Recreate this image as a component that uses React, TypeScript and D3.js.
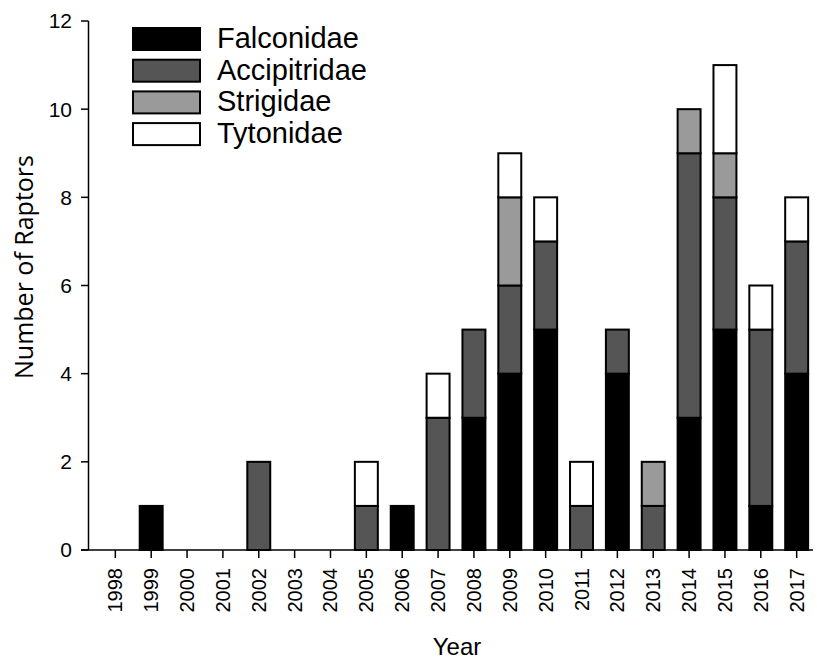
import React, { useEffect, useRef } from 'react';
import * as d3 from 'd3';

// counts per year
const years = ['1998', '1999', '2000', '2001', '2002', '2003', '2004', '2005', '2006', '2007',
  '2008', '2009', '2010', '2011', '2012', '2013', '2014', '2015', '2016', '2017'];
const falconidae = [0, 1, 0, 0, 0, 0, 0, 0, 1, 0, 3, 4, 5, 0, 4, 0, 3, 5, 1, 4];
const accipitridae = [0, 0, 0, 0, 2, 0, 0, 1, 0, 3, 2, 2, 2, 1, 1, 1, 6, 3, 4, 3];
const strigidae = [0, 0, 0, 0, 0, 0, 0, 0, 0, 0, 0, 2, 0, 0, 0, 1, 1, 1, 0, 0];
const tytonidae = [0, 0, 0, 0, 0, 0, 0, 1, 0, 1, 0, 1, 1, 1, 0, 0, 0, 2, 1, 1];
const families = ['Falconidae', 'Accipitridae', 'Strigidae', 'Tytonidae'];
const colors = ['#000000', '#555555', '#9a9a9a', '#ffffff'];
const yTicks = [0, 2, 4, 6, 8, 10, 12];

function App() {
  const ref = useRef<SVGSVGElement>(null);

  useEffect(() => {
    const svg = d3.select(ref.current);
    svg.selectAll('*').remove();

    const rows = years.map((y, i) => ({
      year: y,
      Falconidae: falconidae[i],
      Accipitridae: accipitridae[i],
      Strigidae: strigidae[i],
      Tytonidae: tytonidae[i],
    }));

    const x = d3.scaleBand().domain(years).range([97.4, 814.6]).paddingInner(0.36).paddingOuter(0.18);
    const y = d3.scaleLinear().domain([0, 12]).range([550, 21]);
    const color = d3.scaleOrdinal<string>().domain(families).range(colors);

    const stacked = d3.stack<any>().keys(families)(rows);

    // bars
    svg.append('g')
      .selectAll('g')
      .data(stacked)
      .enter()
      .append('g')
      .attr('fill', d => color(d.key))
      .selectAll('rect')
      .data(d => d.filter(s => s[1] - s[0] > 0))
      .enter()
      .append('rect')
      .attr('x', d => x(d.data.year)!)
      .attr('width', x.bandwidth())
      .attr('y', d => y(d[1]))
      .attr('height', d => y(d[0]) - y(d[1]))
      .attr('stroke', '#000')
      .attr('stroke-width', 2);

    // y axis
    const ya = svg.append('g');
    ya.append('line').attr('x1', 88.5).attr('x2', 88.5).attr('y1', y(12)).attr('y2', y(0))
      .attr('stroke', '#000').attr('stroke-width', 1.5);
    ya.selectAll('line.tick').data(yTicks).enter().append('line')
      .attr('class', 'tick')
      .attr('x1', 81).attr('x2', 88.5)
      .attr('y1', d => y(d)).attr('y2', d => y(d))
      .attr('stroke', '#000').attr('stroke-width', 1.5);
    ya.selectAll('text').data(yTicks).enter().append('text')
      .attr('x', 72).attr('y', d => y(d)).attr('dy', '0.35em')
      .attr('text-anchor', 'end')
      .style('font-family', 'Liberation Sans, Arial, sans-serif')
      .style('font-size', '21px')
      .text(d => d);

    // x axis
    const xa = svg.append('g');
    xa.append('line').attr('x1', 81).attr('x2', 813).attr('y1', y(0)).attr('y2', y(0))
      .attr('stroke', '#000').attr('stroke-width', 1.5);
    const cx = (d: string) => x(d)! + x.bandwidth() / 2;
    xa.selectAll('line.tick').data(years).enter().append('line')
      .attr('class', 'tick')
      .attr('x1', cx).attr('x2', cx)
      .attr('y1', y(0)).attr('y2', y(0) + 8)
      .attr('stroke', '#000').attr('stroke-width', 1.5);
    xa.selectAll('text').data(years).enter().append('text')
      .attr('transform', d => `translate(${cx(d)},568) rotate(-90)`)
      .attr('dy', '0.35em')
      .attr('text-anchor', 'end')
      .style('font-family', 'Liberation Sans, Arial, sans-serif')
      .style('font-size', '20px')
      .text(d => d);

    // axis titles
    svg.append('text')
      .attr('x', 457).attr('y', 655)
      .attr('text-anchor', 'middle')
      .style('font-family', 'Liberation Sans, Arial, sans-serif')
      .style('font-size', '24px')
      .text('Year');
    svg.append('text')
      .attr('transform', 'translate(33,267) rotate(-90)')
      .attr('text-anchor', 'middle')
      .style('font-family', 'Open Sans, sans-serif')
      .style('font-size', '25px')
      .text('Number of Raptors');

    // legend
    const lg = svg.append('g');
    const item = lg.selectAll('g').data(families).enter().append('g')
      .attr('transform', (d, i) => `translate(133,${28 + i * 31.7})`);
    item.append('rect')
      .attr('width', 67).attr('height', 22)
      .attr('fill', d => color(d))
      .attr('stroke', '#000').attr('stroke-width', 2);
    item.append('text')
      .attr('x', 84).attr('y', 20)
      .style('font-family', 'Liberation Sans, Arial, sans-serif')
      .style('font-size', '29px')
      .text(d => d);
  }, []);

  return (
    <svg ref={ref} width={817} height={660}
      style={{ position: 'absolute', left: 0, top: 0, background: '#fff' }} />
  );
}

export default App;
